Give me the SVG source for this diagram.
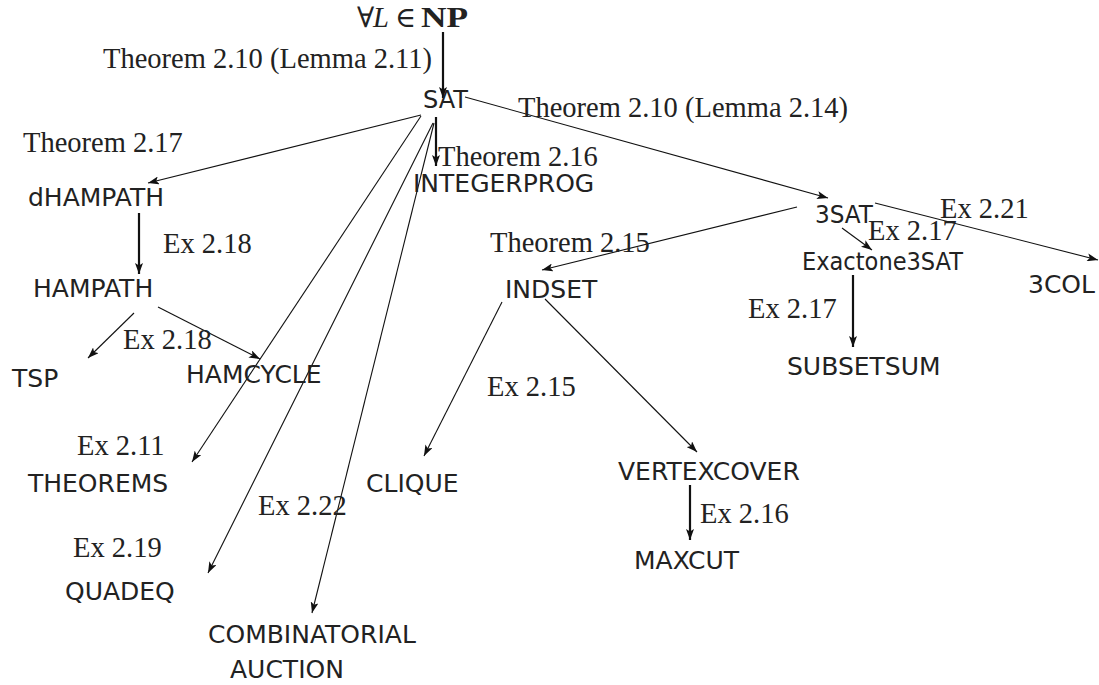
<svg xmlns="http://www.w3.org/2000/svg" width="1099" height="685" viewBox="0 0 1099 685">
  <style>
    .node { font-family: "DejaVu Sans", "Liberation Sans", sans-serif; font-size: 25px; fill: #222; }
    .lbl { font-family: "Liberation Serif", "DejaVu Serif", serif; font-size: 28.5px; fill: #222; }
    .edge { stroke: #111; stroke-width: 1.1; fill: none; marker-end: url(#arrow); }
    .thick { stroke-width: 2.2; }
  </style>
  <defs>
    <marker id="arrow" markerUnits="userSpaceOnUse" markerWidth="12" markerHeight="8" refX="11" refY="4" orient="auto">
      <path d="M0,0 L11,4 L0,8 L2.5,4 z" fill="#111"/>
    </marker>
  </defs>
  <rect width="1099" height="685" fill="#fff"/>

  <!-- reductions -->
  <g id="connectors">
    <line class="edge thick" x1="443" y1="32" x2="443" y2="98"/>
    <line class="edge" x1="421" y1="115" x2="148" y2="183"/>
    <line class="edge" x1="421" y1="116" x2="192" y2="462"/>
    <line class="edge" x1="433" y1="123" x2="208" y2="573"/>
    <line class="edge" x1="434" y1="123" x2="312" y2="613"/>
    <line class="edge thick" x1="436" y1="117" x2="436" y2="166"/>
    <line class="edge" x1="465" y1="97" x2="828" y2="198"/>
    <line class="edge thick" x1="139" y1="213" x2="139" y2="274"/>
    <line class="edge" x1="134" y1="313" x2="88" y2="358"/>
    <line class="edge" x1="158" y1="307" x2="260" y2="359"/>
    <line class="edge" x1="797" y1="207" x2="542" y2="270"/>
    <line class="edge" x1="842" y1="228" x2="872" y2="250"/>
    <line class="edge" x1="875" y1="203" x2="1098" y2="260"/>
    <line class="edge thick" x1="853" y1="275" x2="853" y2="347"/>
    <line class="edge" x1="502" y1="302" x2="424" y2="456"/>
    <line class="edge" x1="545" y1="299" x2="697" y2="452"/>
    <line class="edge thick" x1="690" y1="485" x2="690" y2="540"/>
  </g>

  <!-- edge labels -->
  <g id="labels" class="lbl">
    <text x="103" y="68">Theorem 2.10 (Lemma 2.11)</text>
    <text x="518" y="117">Theorem 2.10 (Lemma 2.14)</text>
    <text x="438" y="166">Theorem 2.16</text>
    <text x="23" y="152">Theorem 2.17</text>
    <text x="163" y="253">Ex 2.18</text>
    <text x="123" y="349">Ex 2.18</text>
    <text x="490" y="252">Theorem 2.15</text>
    <text x="940" y="218">Ex 2.21</text>
    <text x="868" y="240">Ex 2.17</text>
    <text x="748" y="318">Ex 2.17</text>
    <text x="487" y="396">Ex 2.15</text>
    <text x="77" y="455">Ex 2.11</text>
    <text x="258" y="515">Ex 2.22</text>
    <text x="73" y="557">Ex 2.19</text>
    <text x="700" y="523">Ex 2.16</text>
  </g>

  <!-- problems -->
  <g id="np" class="lbl">
    <text x="357" y="27">∀</text>
    <text x="373" y="27" font-style="italic">L</text>
    <text x="395" y="27">∈</text>
    <text x="421" y="27" font-weight="bold" textLength="47" lengthAdjust="spacingAndGlyphs">NP</text>
  </g>
  <g id="sat"><text class="node" x="423" y="108" textLength="45" lengthAdjust="spacingAndGlyphs">SAT</text></g>
  <g id="integerprog"><text class="node" x="413" y="192">INTEGERPROG</text></g>
  <g id="dhampath"><text class="node" x="28" y="206">dHAMPATH</text></g>
  <g id="hampath"><text class="node" x="33" y="297">HAMPATH</text></g>
  <g id="tsp"><text class="node" x="12" y="387">TSP</text></g>
  <g id="hamcycle"><text class="node" x="186" y="383">HAMCYCLE</text></g>
  <g id="theorems"><text class="node" x="28" y="492">THEOREMS</text></g>
  <g id="quadeq"><text class="node" x="65" y="600">QUADEQ</text></g>
  <g id="combinatorial-auction">
    <text class="node" x="208" y="643">COMBINATORIAL</text>
    <text class="node" x="230" y="678">AUCTION</text>
  </g>
  <g id="clique"><text class="node" x="366" y="492">CLIQUE</text></g>
  <g id="indset"><text class="node" x="505" y="298">INDSET</text></g>
  <g id="vertexcover"><text class="node" x="618" y="480">VERTEXCOVER</text></g>
  <g id="maxcut"><text class="node" x="634" y="569">MAXCUT</text></g>
  <g id="threesat"><text class="node" x="815" y="223" textLength="58" lengthAdjust="spacingAndGlyphs">3SAT</text></g>
  <g id="exactone3sat"><text class="node" x="802" y="270" font-size="24" textLength="161" lengthAdjust="spacingAndGlyphs">Exactone3SAT</text></g>
  <g id="subsetsum"><text class="node" x="787" y="375">SUBSETSUM</text></g>
  <g id="threecol"><text class="node" x="1028" y="293" font-size="24">3COL</text></g>
</svg>
